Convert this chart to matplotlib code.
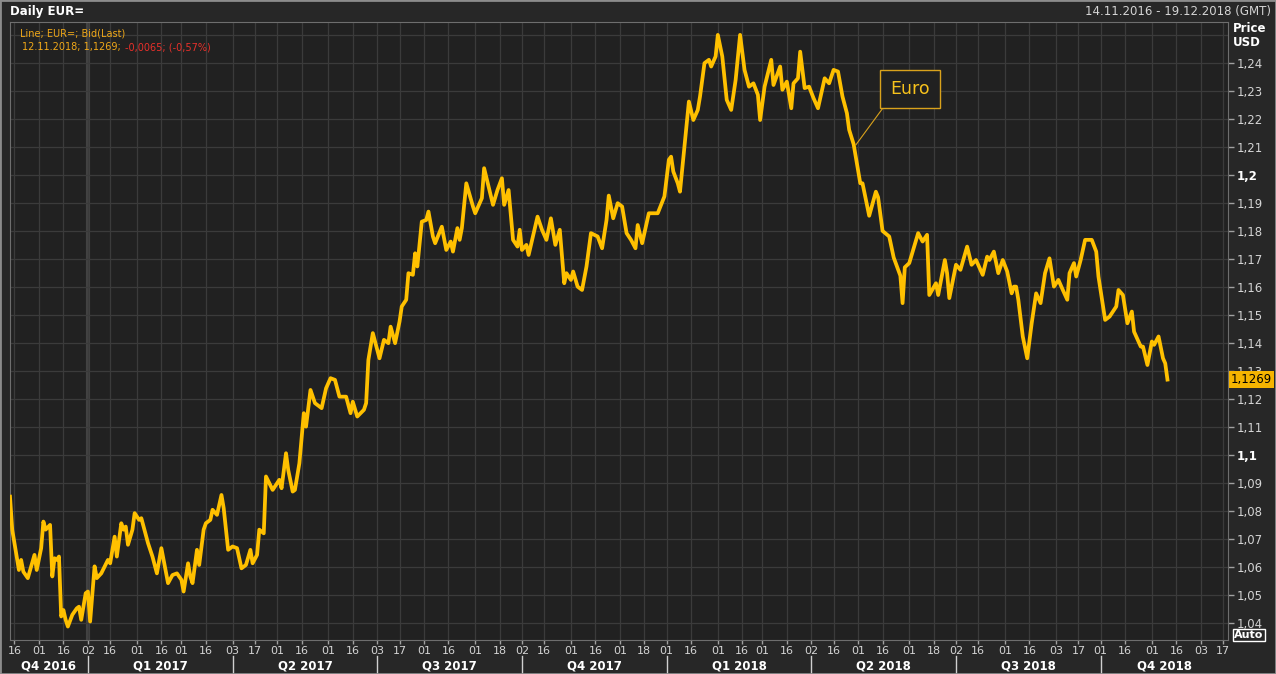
import pandas as pd
import matplotlib
matplotlib.use("Agg")
import matplotlib.pyplot as plt
from matplotlib.patches import Rectangle

# trading day number counted from 14.11.2016, and EUR/USD bid
day = [0, 1, 4, 5, 6, 8, 11, 12, 14, 15, 16, 18, 19, 20, 21, 22, 23, 24, 25, 26,
       28, 30, 31, 32, 34, 35, 36, 38, 39, 41, 44, 45, 47, 48, 50, 51, 52, 53, 55, 56,
       58, 59, 62, 64, 66, 68, 71, 73, 75, 77, 78, 80, 81, 82, 84, 85, 87, 88, 90, 91,
       93, 95, 96, 98, 100, 102, 104, 106, 108, 109, 111, 112, 114, 115, 118, 121, 122, 124, 125, 127,
       128, 130, 132, 133, 135, 137, 140, 142, 144, 146, 148, 151, 153, 154, 156, 159, 160, 161, 163, 166,
       168, 170, 171, 173, 175, 176, 178, 179, 181, 182, 183, 185, 187, 188, 190, 191, 194, 196, 198, 199,
       201, 202, 203, 205, 208, 209, 212, 213, 215, 217, 219, 221, 222, 224, 226, 228, 229, 230, 232, 233,
       237, 239, 241, 243, 245, 247, 249, 250, 252, 253, 255, 257, 259, 261, 264, 266, 268, 269, 271, 273,
       275, 277, 279, 281, 282, 284, 287, 291, 294, 296, 297, 298, 300, 301, 303, 305, 307, 309, 310, 312,
       314, 315, 317, 318, 320, 322, 324, 326, 328, 330, 332, 334, 336, 337, 339, 342, 343, 346, 347, 349,
       351, 352, 354, 355, 357, 359, 361, 363, 366, 368, 370, 372, 374, 376, 377, 379, 382, 383, 386, 389,
       390, 392, 395, 397, 400, 401, 402, 404, 408, 410, 412, 413, 416, 417, 420, 421, 422, 425, 427, 430,
       432, 434, 437, 439, 440, 442, 444, 446, 448, 450, 451, 452, 453, 455, 457, 459, 461, 463, 465, 467,
       469, 471, 473, 475, 476, 478, 479, 481, 483, 486, 488, 489, 492, 494, 497, 498, 500, 502, 504, 505,
       508, 509, 511, 513, 514, 516, 518, 519, 520]
eurusd = [1.0851, 1.0733, 1.0589, 1.0625, 1.0583, 1.0560, 1.0643, 1.0589, 1.0667, 1.0762,
          1.0733, 1.0750, 1.0566, 1.0631, 1.0625, 1.0637, 1.0423, 1.0446, 1.0411, 1.0387,
          1.0429, 1.0452, 1.0458, 1.0411, 1.0506, 1.0512, 1.0405, 1.0602, 1.0560, 1.0577,
          1.0625, 1.0613, 1.0708, 1.0637, 1.0756, 1.0733, 1.0744, 1.0679, 1.0733, 1.0792,
          1.0768, 1.0774, 1.0685, 1.0637, 1.0577, 1.0667, 1.0542, 1.0571, 1.0577, 1.0554,
          1.0512, 1.0613, 1.0566, 1.0542, 1.0661, 1.0607, 1.0733, 1.0756, 1.0768, 1.0804,
          1.0786, 1.0857, 1.0810, 1.0661, 1.0673, 1.0667, 1.0595, 1.0607, 1.0661, 1.0613,
          1.0643, 1.0733, 1.0720, 1.0923, 1.0875, 1.0911, 1.0881, 1.1006, 1.0946, 1.0869,
          1.0875, 1.0970, 1.1149, 1.1101, 1.1232, 1.1185, 1.1167, 1.1238, 1.1274, 1.1268,
          1.1208, 1.1208, 1.1149, 1.1190, 1.1137, 1.1161, 1.1185, 1.1339, 1.1435, 1.1345,
          1.1411, 1.1399, 1.1458, 1.1399, 1.1476, 1.1530, 1.1554, 1.1649, 1.1643, 1.1720,
          1.1673, 1.1833, 1.1839, 1.1869, 1.1780, 1.1756, 1.1815, 1.1732, 1.1762, 1.1726,
          1.1810, 1.1768, 1.1810, 1.1970, 1.1887, 1.1863, 1.1917, 1.2024, 1.1958, 1.1893,
          1.1946, 1.1988, 1.1893, 1.1946, 1.1768, 1.1744, 1.1804, 1.1732, 1.1750, 1.1714,
          1.1851, 1.1804, 1.1768, 1.1845, 1.1750, 1.1804, 1.1613, 1.1649, 1.1625, 1.1655,
          1.1601, 1.1589, 1.1673, 1.1792, 1.1780, 1.1738, 1.1839, 1.1926, 1.1845, 1.1899,
          1.1887, 1.1792, 1.1768, 1.1738, 1.1821, 1.1756, 1.1863, 1.1863, 1.1923, 1.2054,
          1.2065, 1.2012, 1.1970, 1.1940, 1.2101, 1.2262, 1.2196, 1.2232, 1.2280, 1.2399,
          1.2411, 1.2387, 1.2423, 1.2500, 1.2423, 1.2268, 1.2232, 1.2339, 1.2500, 1.2375,
          1.2315, 1.2327, 1.2286, 1.2196, 1.2315, 1.2411, 1.2321, 1.2387, 1.2304, 1.2333,
          1.2238, 1.2327, 1.2345, 1.2440, 1.2310, 1.2315, 1.2274, 1.2238, 1.2345, 1.2327,
          1.2375, 1.2369, 1.2280, 1.2220, 1.2161, 1.2110, 1.1970, 1.1970, 1.1854, 1.1940,
          1.1920, 1.1800, 1.1780, 1.1705, 1.1640, 1.1542, 1.1670, 1.1685, 1.1792, 1.1762,
          1.1786, 1.1571, 1.1613, 1.1571, 1.1696, 1.1649, 1.1560, 1.1679, 1.1661, 1.1744,
          1.1679, 1.1696, 1.1643, 1.1708, 1.1696, 1.1726, 1.1649, 1.1696, 1.1655, 1.1577,
          1.1601, 1.1601, 1.1554, 1.1423, 1.1345, 1.1470, 1.1577, 1.1542, 1.1649, 1.1702,
          1.1601, 1.1625, 1.1589, 1.1554, 1.1649, 1.1685, 1.1637, 1.1696, 1.1768, 1.1768,
          1.1726, 1.1637, 1.1482, 1.1494, 1.1530, 1.1589, 1.1571, 1.1470, 1.1512, 1.1440,
          1.1387, 1.1387, 1.1321, 1.1405, 1.1393, 1.1423, 1.1345, 1.1327, 1.1269]

tick_dates = ['2016-11-16', '2016-12-01', '2016-12-16', '2017-01-02', '2017-01-16',
              '2017-02-01', '2017-02-16', '2017-03-01', '2017-03-16', '2017-04-03',
              '2017-04-17', '2017-05-01', '2017-05-16', '2017-06-01', '2017-06-16',
              '2017-07-03', '2017-07-17', '2017-08-01', '2017-08-16', '2017-09-01',
              '2017-09-18', '2017-10-02', '2017-10-16', '2017-11-01', '2017-11-16',
              '2017-12-01', '2017-12-18', '2018-01-01', '2018-01-16', '2018-02-01',
              '2018-02-16', '2018-03-01', '2018-03-16', '2018-04-02', '2018-04-16',
              '2018-05-01', '2018-05-16', '2018-06-01', '2018-06-18', '2018-07-02',
              '2018-07-16', '2018-08-01', '2018-08-16', '2018-09-03', '2018-09-17',
              '2018-10-01', '2018-10-16', '2018-11-01', '2018-11-16', '2018-12-03',
              '2018-12-17']
quarter_bounds = ['2016-11-14', '2017-01-02', '2017-04-03', '2017-07-03', '2017-10-02',
                  '2018-01-01', '2018-04-02', '2018-07-02', '2018-10-01', '2018-12-19']
quarter_names = ['Q4 2016', 'Q1 2017', 'Q2 2017', 'Q3 2017', 'Q4 2017',
                 'Q1 2018', 'Q2 2018', 'Q3 2018', 'Q4 2018']
price_ticks = [1.04, 1.05, 1.06, 1.07, 1.08, 1.09, 1.10, 1.11, 1.12, 1.13, 1.14,
               1.15, 1.16, 1.17, 1.18, 1.19, 1.20, 1.21, 1.22, 1.23, 1.24]
last_price = 1.1269

W, H = 1276, 674
LINE = '#ffc000'
ORANGE = '#f0a818'

days = pd.bdate_range(quarter_bounds[0], quarter_bounds[-1])


def pos(d):
    return days.get_loc(pd.Timestamp(d))


fig = plt.figure(figsize=(W / 100, H / 100), dpi=100, facecolor='#272727')
ax = fig.add_axes([10 / W, 1 - 640 / H, (1228 - 10) / W, (640 - 22) / H])
ax.set_facecolor('#212121')

ax.plot(day, eurusd, color=LINE, lw=2.7, solid_joinstyle='round', zorder=3)
ax.set_xlim(0, len(days) - 0.8)
ax.set_ylim(1.0339, 1.2546)

# grid
xt = [pos(d) for d in tick_dates]
ax.set_xticks(xt)
ax.set_xticklabels([pd.Timestamp(d).strftime('%d') for d in tick_dates])
ax.set_yticks(price_ticks)
ax.set_yticklabels([('%g' % v).replace('.', ',') for v in price_ticks])
ax.grid(True, color='#3b3b3b', lw=0.9, zorder=0)
ax.axhline(1.25, color='#3b3b3b', lw=0.9, zorder=0)
ax.axvline(pos('2017-01-02'), color='#424242', lw=3, zorder=0)

ax.yaxis.tick_right()
ax.tick_params(axis='both', direction='out', length=4, width=1, color='#a0a0a0',
               labelcolor='#d4d4d4', labelsize=8.5, pad=2)
ax.tick_params(axis='x', length=3, pad=1, labelsize=8)
for lab in ax.get_yticklabels():
    if lab.get_text() in ('1,1', '1,2'):
        lab.set_fontweight('bold')
        lab.set_color('white')
for sp in ax.spines.values():
    sp.set_color('#6e6e6e')

# quarter row under the day ticks
xtr = ax.get_xaxis_transform()
x_end = len(days) - 0.8
for i, name in enumerate(quarter_names):
    a = pos(quarter_bounds[i])
    b = min(pos(quarter_bounds[i + 1]), x_end)
    ax.text((a + b) / 2, -0.0415, name, transform=xtr, ha='center', va='center',
            color='white', fontsize=8.5, fontweight='bold', clip_on=False)
    if i > 0:
        ax.plot([a, a], [-0.026, -0.053], transform=xtr, color='#d0d0d0', lw=1,
                clip_on=False)

# label of the series
ax.annotate('Euro', xy=(380, 1.2107), xytext=(404.4, 1.2307), ha='center', va='center',
            color='#f7c21c', fontsize=12.5,
            bbox=dict(boxstyle='square,pad=0.6', fc='#212121', ec='#d9a21c', lw=1),
            arrowprops=dict(arrowstyle='-', color='#d9a21c', lw=0.8, relpos=(0, 0),
                            shrinkA=0, shrinkB=0), zorder=5)

# last price box on the axis
ax.annotate('1,1269', xy=(1.0, last_price), xycoords=('axes fraction', 'data'),
            xytext=(2, 0), textcoords='offset points', ha='left', va='center',
            fontsize=8.5, color='black', zorder=6,
            bbox=dict(boxstyle='square,pad=0.15', fc='#f5b400', ec='none'),
            annotation_clip=False)

# header and side texts
fig.text(10 / W, 1 - 12 / H, 'Daily EUR=', color='white', fontsize=8.5,
         fontweight='bold', va='center')
fig.text(1271 / W, 1 - 12 / H, '14.11.2016 - 19.12.2018 (GMT)', color='#d4d4d4',
         fontsize=8.5, va='center', ha='right')
fig.text(1233 / W, 1 - 28 / H, 'Price', color='white', fontsize=8.5,
         fontweight='bold', va='center')
fig.text(1233 / W, 1 - 43 / H, 'USD', color='white', fontsize=8.5,
         fontweight='bold', va='center')
fig.text(1249 / W, 1 - 635 / H, 'Auto', color='white', fontsize=8, fontweight='bold',
         va='center', ha='center',
         bbox=dict(boxstyle='square,pad=0.1', fc='none', ec='white', lw=1))

fig.text(20 / W, 1 - 33 / H, 'Line; EUR=; Bid(Last)', color=ORANGE, fontsize=7,
         va='center')
fig.text(22 / W, 1 - 47 / H, '12.11.2018; 1,1269;', color=ORANGE, fontsize=7,
         va='center')
fig.text(125 / W, 1 - 47 / H, '-0,0065; (-0,57%)', color='#e8302a', fontsize=7,
         va='center')

fig.patches.append(Rectangle((0, 0), 1, 1, transform=fig.transFigure, fill=False,
                             ec='#8c8c8c', lw=2))

fig.savefig('out.png', dpi=100, facecolor=fig.get_facecolor())
